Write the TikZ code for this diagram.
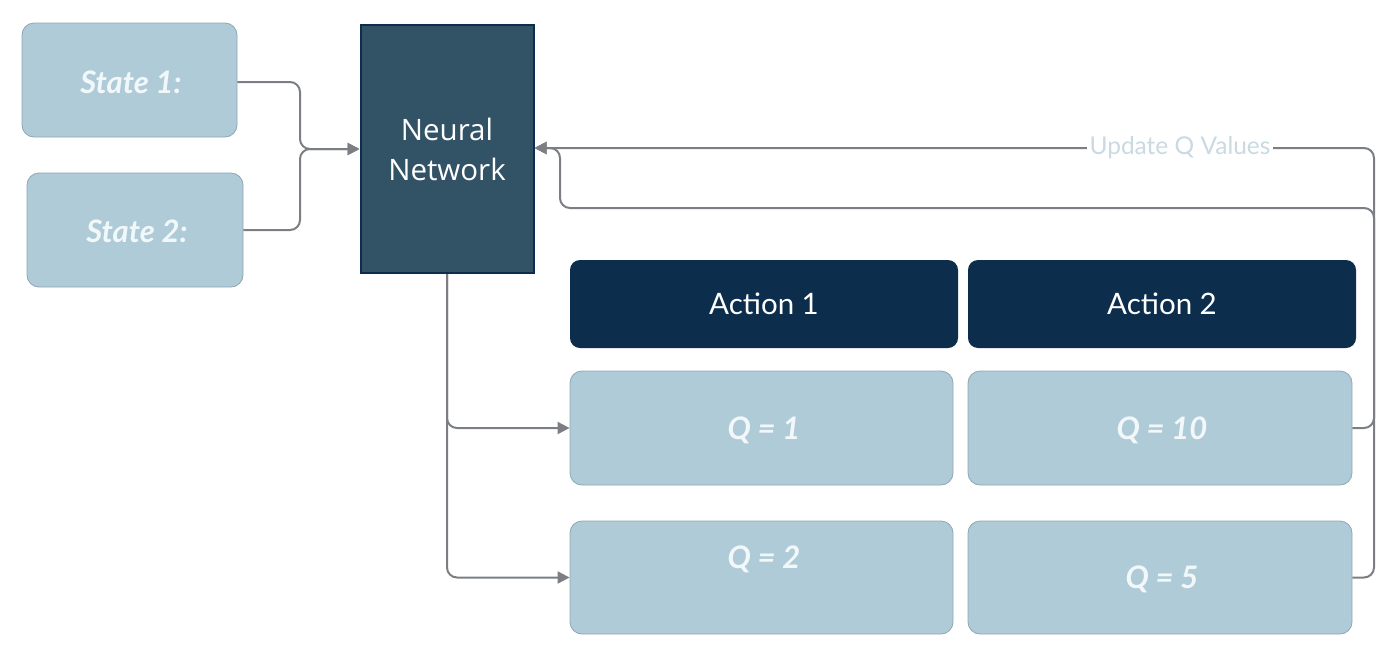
\documentclass[tikz,border=0pt]{standalone}
\usepackage{fontspec}
\setmainfont{Lato}
\newfontfamily\nnfont{Open Sans}
\usetikzlibrary{arrows.meta}
\definecolor{lightbox}{HTML}{AFCBD8}
\definecolor{boxedge}{HTML}{8FA6B2}
\definecolor{qtext}{HTML}{F2F8FA}
\definecolor{nnfill}{HTML}{325366}
\definecolor{navy}{HTML}{0C2D4C}
\definecolor{linecol}{HTML}{7B7F83}
\definecolor{labcol}{HTML}{C9DAE3}
\begin{document}
\begin{tikzpicture}[x=1pt,y=-1pt,
  qfont/.style={font=\fontsize{31}{36}\selectfont\bfseries\itshape},
  lbox/.style={draw=boxedge, line width=0.8pt, fill=lightbox, rounded corners=12pt, text=qtext, qfont, inner sep=0pt},
  abox/.style={fill=navy, rounded corners=10pt, text=white, font=\fontsize{29.5}{34}\selectfont, inner sep=0pt, minimum width=388pt, minimum height=88pt},
  conn/.style={draw=linecol, line width=2pt, rounded corners=10pt},
  tip/.style={-{Triangle[length=12pt,width=12pt]}}
]
\useasboundingbox (0,0) rectangle (1400,659);

% nodes
\node[lbox, minimum width=215pt, minimum height=114pt] (s1) at (129.5,80) {};
\node[text=qtext, qfont] (s1t) at (131,82) {State 1:};
\node[lbox, minimum width=216pt, minimum height=114pt] (s2) at (135,230) {};
\node[text=qtext, qfont] (s2t) at (137,231) {State 2:};

\node[draw=navy, line width=2pt, fill=nnfill, minimum width=173pt, minimum height=248pt, inner sep=0pt,
      text=white, align=center, font=\nnfont\fontsize{29.5}{40}\selectfont] (nn) at (447,149) {Neural\\Network};

\node[abox] (a1) at (764,304) {Action 1};
\node[abox] (a2) at (1162,304) {Action 2};

\node[lbox, minimum width=383pt, minimum height=114pt] (q1) at (761.5,428) {};
\node[text=qtext, qfont] (q1t) at (764,430) {Q = 1};
\node[lbox, minimum width=384pt, minimum height=114pt] (q10) at (1160,428) {};
\node[text=qtext, qfont] (q10t) at (1162,430) {Q = 10};
\node[lbox, minimum width=383pt, minimum height=113pt] (q2) at (761.5,577.5) {};
\node[text=qtext, qfont] (q2t) at (764,559) {Q = 2};
\node[lbox, minimum width=384pt, minimum height=113pt] (q5) at (1160,577.5) {};
\node[text=qtext, qfont] (q5t) at (1162,579) {Q = 5};

% connectors
\coordinate (j1) at (300,82);
\coordinate (j2) at (300,230);
\draw[conn,tip] (s1.east |- j1) -- (j1) |- (nn.west);
\draw[conn,tip] (s2.east |- j2) -- (j2) |- (nn.west);

\draw[conn,tip] (nn.south) |- (q1.west);
\draw[conn,tip] (nn.south) |- (q2.west);

\coordinate (r1) at (1374,148);
\coordinate (r2) at (1374,208);
\coordinate (l2) at (560,208);
\coordinate (l1) at (560,148);
\draw[conn,tip] (q10.east) -| (r2) -- (l2) -- (l1) -- (nn.east |- l1);
\draw[conn,tip] (q5.east) -| (r1) -- (nn.east |- r1);

\node[fill=white, text=labcol, font=\fontsize{24.5}{28}\selectfont, inner xsep=3pt, inner ysep=1pt] (lab) at (1180,148) {Update Q Values};
\end{tikzpicture}
\end{document}
